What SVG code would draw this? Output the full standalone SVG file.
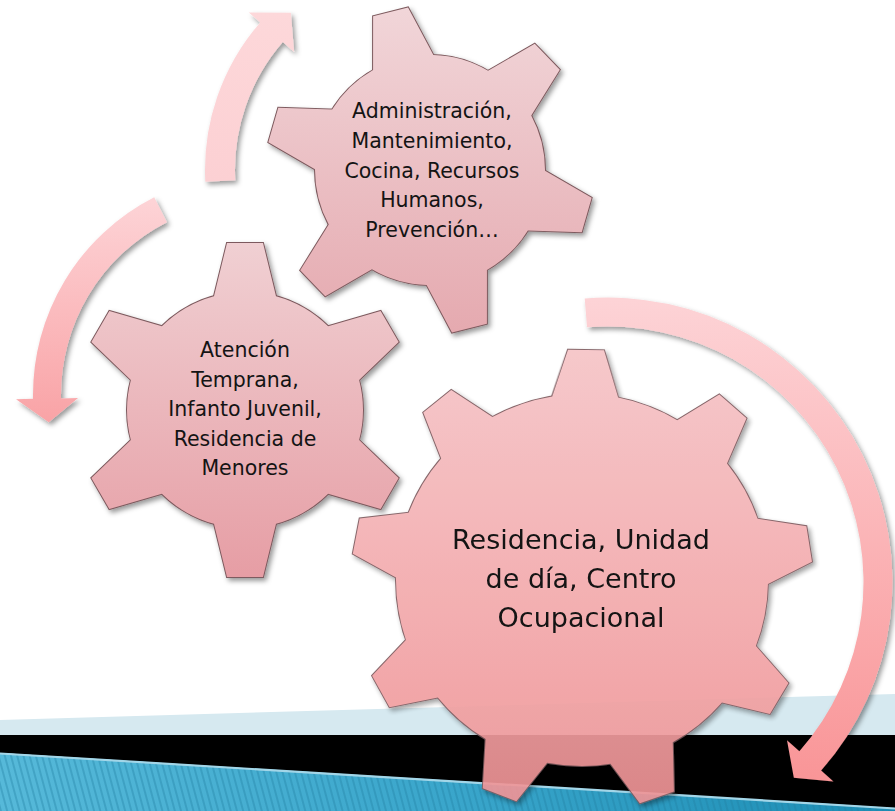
<svg xmlns="http://www.w3.org/2000/svg" width="895" height="811" viewBox="0 0 895 811">
<defs>
<style>
.ol{fill:#7d5a5e;stroke:#7d5a5e;stroke-width:2}
.t{font-family:"DejaVu Sans",Verdana,sans-serif;fill:#141414;text-anchor:middle}
.ts{font-size:20.5px}
.tb{font-size:27px}
</style>
<filter id="sh" x="-15%" y="-15%" width="135%" height="135%">
<feDropShadow dx="2.5" dy="3" stdDeviation="2.5" flood-color="#000" flood-opacity="0.4"/>
</filter>
<linearGradient id="gA" x1="0" y1="0" x2="0" y2="1"><stop offset="0" stop-color="#f1d6d9"/><stop offset="1" stop-color="#e5a9af"/></linearGradient>
<linearGradient id="gT" x1="0" y1="0" x2="0" y2="1"><stop offset="0" stop-color="#f0d0d3"/><stop offset="1" stop-color="#e69da4"/></linearGradient>
<linearGradient id="gB" x1="0" y1="0" x2="0" y2="1"><stop offset="0" stop-color="#f6c4c7"/><stop offset="1" stop-color="#ef9294"/></linearGradient>
<linearGradient id="aBig" gradientUnits="userSpaceOnUse" x1="0" y1="300" x2="0" y2="782"><stop offset="0" stop-color="#fdd3d6"/><stop offset="1" stop-color="#f99597"/></linearGradient>
<linearGradient id="aLeft" gradientUnits="userSpaceOnUse" x1="0" y1="197" x2="0" y2="422"><stop offset="0" stop-color="#fdd4d7"/><stop offset="1" stop-color="#f9a3a6"/></linearGradient>
<linearGradient id="aTop" gradientUnits="userSpaceOnUse" x1="0" y1="182" x2="0" y2="12"><stop offset="0" stop-color="#fcd0d3"/><stop offset="1" stop-color="#fdd8da"/></linearGradient>
<linearGradient id="blue" x1="0" y1="0" x2="1" y2="0"><stop offset="0" stop-color="#56b9d9"/><stop offset="0.5" stop-color="#3aa6cb"/><stop offset="1" stop-color="#1c8db4"/></linearGradient>
<pattern id="hatch" width="6" height="6" patternUnits="userSpaceOnUse" patternTransform="rotate(-15)">
<line x1="1" y1="-1" x2="1" y2="7" stroke="#1f7fa3" stroke-width="1.6" stroke-opacity="0.45"/>
</pattern>
<polygon id="tb" points="165,-38.7 230,-18 230,18 165,38.7"/>
<polygon id="tt" points="100,-34.4 167,-18 167,18 100,34.4"/>
<polygon id="ta" points="100,-33.75 163,-18 163,18 100,33.75"/>
<g id="shapeA">
<circle cx="430" cy="170" r="115"/>
<use href="#ta" transform="translate(430 170) rotate(-104)"/>
<use href="#ta" transform="translate(430 170) rotate(-44)"/>
<use href="#ta" transform="translate(430 170) rotate(16)"/>
<use href="#ta" transform="translate(430 170) rotate(76)"/>
<use href="#ta" transform="translate(430 170) rotate(136)"/>
<use href="#ta" transform="translate(430 170) rotate(196)"/>
</g>
<clipPath id="cA">
<circle cx="430" cy="170" r="115"/>
<use href="#ta" transform="translate(430 170) rotate(-104)"/>
<use href="#ta" transform="translate(430 170) rotate(-44)"/>
<use href="#ta" transform="translate(430 170) rotate(16)"/>
<use href="#ta" transform="translate(430 170) rotate(76)"/>
<use href="#ta" transform="translate(430 170) rotate(136)"/>
<use href="#ta" transform="translate(430 170) rotate(196)"/>
</clipPath>
<g id="shapeT">
<circle cx="245" cy="410" r="118"/>
<use href="#tt" transform="translate(245 410) rotate(-90)"/>
<use href="#tt" transform="translate(245 410) rotate(-30)"/>
<use href="#tt" transform="translate(245 410) rotate(30)"/>
<use href="#tt" transform="translate(245 410) rotate(90)"/>
<use href="#tt" transform="translate(245 410) rotate(150)"/>
<use href="#tt" transform="translate(245 410) rotate(210)"/>
</g>
<clipPath id="cT">
<circle cx="245" cy="410" r="118"/>
<use href="#tt" transform="translate(245 410) rotate(-90)"/>
<use href="#tt" transform="translate(245 410) rotate(-30)"/>
<use href="#tt" transform="translate(245 410) rotate(30)"/>
<use href="#tt" transform="translate(245 410) rotate(90)"/>
<use href="#tt" transform="translate(245 410) rotate(150)"/>
<use href="#tt" transform="translate(245 410) rotate(210)"/>
</clipPath>
<g id="shapeB">
<circle cx="582" cy="580" r="186"/>
<use href="#tb" transform="translate(582 580) rotate(-89)"/>
<use href="#tb" transform="translate(582 580) rotate(-49)"/>
<use href="#tb" transform="translate(582 580) rotate(-9)"/>
<use href="#tb" transform="translate(582 580) rotate(31)"/>
<use href="#tb" transform="translate(582 580) rotate(71)"/>
<use href="#tb" transform="translate(582 580) rotate(111)"/>
<use href="#tb" transform="translate(582 580) rotate(151)"/>
<use href="#tb" transform="translate(582 580) rotate(191)"/>
<use href="#tb" transform="translate(582 580) rotate(231)"/>
</g>
<clipPath id="cB">
<circle cx="582" cy="580" r="186"/>
<use href="#tb" transform="translate(582 580) rotate(-89)"/>
<use href="#tb" transform="translate(582 580) rotate(-49)"/>
<use href="#tb" transform="translate(582 580) rotate(-9)"/>
<use href="#tb" transform="translate(582 580) rotate(31)"/>
<use href="#tb" transform="translate(582 580) rotate(71)"/>
<use href="#tb" transform="translate(582 580) rotate(111)"/>
<use href="#tb" transform="translate(582 580) rotate(151)"/>
<use href="#tb" transform="translate(582 580) rotate(191)"/>
<use href="#tb" transform="translate(582 580) rotate(231)"/>
</clipPath>
</defs>

<rect width="895" height="811" fill="#ffffff"/>

<g id="background-band">
<polygon points="0,720 895,694 895,736 0,736" fill="#d6e9f0"/>
<polygon points="0,735 895,735 895,809 0,753" fill="#000000"/>
<polygon points="0,753 895,808 895,811 0,811" fill="url(#blue)"/>
<polygon points="0,753 895,808 895,811 0,811" fill="url(#hatch)"/>
<line x1="0" y1="753.5" x2="895" y2="808.5" stroke="#a3d6e8" stroke-width="2.2"/>
</g>

<g id="connectors">
<path id="arrow-top" filter="url(#sh)" fill="url(#aTop)" d="M205.31,181.78 A225,225 0 0 1 260.19,22.39 L248.87,12.55 L290.85,12.72 L294.15,51.91 L282.83,42.07 A195,195 0 0 0 235.27,180.21 Z"/>
<path id="arrow-left" filter="url(#sh)" fill="url(#aLeft)" d="M154.21,197.20 A222,222 0 0 0 33.03,398.87 L16.04,399.17 L48.78,422.15 L78.03,398.09 L61.03,398.39 A194,194 0 0 1 166.93,222.14 Z"/>
<path id="arrow-big" filter="url(#sh)" fill="url(#aBig)" d="M584.69,298.46 A284.5,284.5 0 0 1 821.08,770.52 L833.44,781.45 L793.85,777.85 L787.00,740.37 L799.36,751.30 A255.5,255.5 0 0 0 587.06,327.36 Z"/>
</g>

<g id="node-atencion">
<g filter="url(#sh)">
<use href="#shapeT" class="ol"/>
<rect x="75" y="240" width="340" height="340" fill="url(#gT)" clip-path="url(#cT)"/>
</g>
<text class="t ts" x="245"><tspan x="245" y="357">Atención</tspan><tspan x="245" y="386.6">Temprana,</tspan><tspan x="245" y="416.2">Infanto Juvenil,</tspan><tspan x="245" y="445.8">Residencia de</tspan><tspan x="245" y="475.4">Menores</tspan></text>
</g>

<g id="node-administracion">
<g filter="url(#sh)">
<use href="#shapeA" class="ol"/>
<rect x="264" y="4" width="332" height="332" fill="url(#gA)" clip-path="url(#cA)"/>
</g>
<text class="t ts" x="432"><tspan x="432" y="118">Administración,</tspan><tspan x="432" y="147.8">Mantenimiento,</tspan><tspan x="432" y="177.6">Cocina, Recursos</tspan><tspan x="432" y="207.4">Humanos,</tspan><tspan x="432" y="237.2">Prevención…</tspan></text>
</g>

<g id="node-residencia">
<g filter="url(#sh)" opacity="0.92">
<use href="#shapeB" class="ol"/>
<rect x="348" y="346" width="470" height="470" fill="url(#gB)" clip-path="url(#cB)"/>
</g>
<text class="t tb" x="581"><tspan x="581" y="549">Residencia, Unidad</tspan><tspan x="581" y="588">de día, Centro</tspan><tspan x="581" y="627">Ocupacional</tspan></text>
</g>
</svg>
